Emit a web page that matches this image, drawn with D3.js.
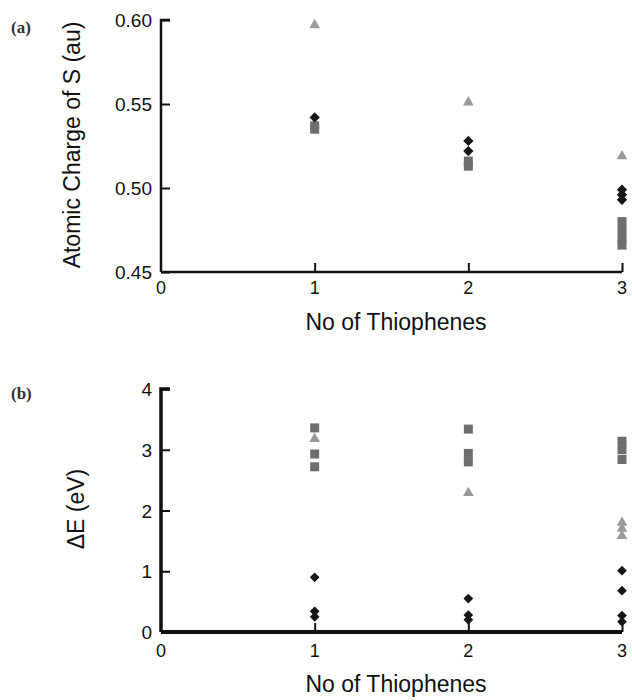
<!DOCTYPE html>
<html>
<head>
<meta charset="utf-8">
<script src="https://cdn.jsdelivr.net/npm/d3@7"></script>
<style>
body { margin: 0; background: #fff; }
svg text { font-family: "Liberation Sans", Arial, sans-serif; fill: #111; }
</style>
</head>
<body>
<div id="chart"></div>
<script>
// panel (a): atomic charge of S
var xTicks = [0, 1, 2, 3]
var chargeTicks = [0.45, 0.50, 0.55, 0.60]
var chargeTri = [[1, 0.597], [2, 0.551], [3, 0.519]]
var chargeDia = [[1, 0.542], [2, 0.528], [2, 0.522], [3, 0.499], [3, 0.496], [3, 0.493]]
var chargeSq = [[1, 0.537], [1, 0.535], [2, 0.516], [2, 0.513], [3, 0.480], [3, 0.475], [3, 0.470], [3, 0.466]]

// panel (b): delta E
var gapTicks = [0, 1, 2, 3, 4]
var gapSq = [[1, 3.36], [1, 2.93], [1, 2.72], [2, 3.34], [2, 2.94], [2, 2.80], [3, 3.14], [3, 3.00], [3, 2.84]]
var gapTri = [[1, 3.18], [2, 2.29], [3, 1.80], [3, 1.70], [3, 1.58]]
var gapDia = [[1, 0.90], [1, 0.34], [1, 0.25], [2, 0.55], [2, 0.28], [2, 0.20], [3, 1.01], [3, 0.68], [3, 0.27], [3, 0.17]]

var width = 632, height = 700

var svg = d3.select("#chart").append("svg")
    .attr("width", width)
    .attr("height", height)

var x = d3.scaleLinear().domain([0, 3]).range([161, 622])

function drawPanel(top, bottom, domain, ticks, fmt, series, opt) {
    var y = d3.scaleLinear().domain(domain).range([bottom, top])
    var g = svg.append("g")

    // y axis
    var ya = g.append("g").attr("transform", "translate(" + x(0) + ",0)")
        .call(d3.axisRight(y).tickValues(ticks).tickSize(9).tickFormat(""))
    ya.select(".domain").attr("stroke", "#111").attr("stroke-width", opt.axisW)
        .attr("d", "M9," + y(domain[1]) + "H0V" + y(domain[0]))
    ya.selectAll(".tick line").attr("stroke", "#111").attr("stroke-width", 2)
    g.selectAll(".ylab").data(ticks).enter().append("text")
        .attr("x", x(0) - 9).attr("y", function(d) { return y(d) + 7 })
        .attr("text-anchor", "end").style("font-size", "19px")
        .text(fmt)

    // x axis
    var xa = g.append("g").attr("transform", "translate(0," + bottom + ")")
        .call(d3.axisTop(x).tickValues(xTicks.slice(1)).tickSize(9).tickFormat(""))
    xa.select(".domain").attr("stroke", "#111").attr("stroke-width", opt.xAxisW)
        .attr("d", "M" + x(0) + ",0H" + x(3))
    xa.selectAll(".tick line").attr("stroke", "#111").attr("stroke-width", 2)
    g.selectAll(".xlab").data(xTicks).enter().append("text")
        .attr("x", function(d) { return x(d) }).attr("y", bottom + opt.tickDy)
        .attr("text-anchor", "middle").style("font-size", "18px")
        .text(function(d) { return d })

    g.append("text").attr("x", 396).attr("y", bottom + opt.titleDy)
        .attr("text-anchor", "middle").style("font-size", "23px")
        .text("No of Thiophenes")

    g.append("text")
        .attr("transform", "translate(" + opt.labelX + "," + opt.labelY + ") rotate(-90)")
        .attr("text-anchor", "middle").style("font-size", "23px")
        .text(opt.label)

    g.append("text").attr("x", 11).attr("y", opt.tagY)
        .style("font-family", "'Liberation Serif', serif").style("font-weight", "bold")
        .style("font-size", "17px").style("fill", "#333")
        .text(opt.tag)

    series.forEach(function(s) {
        g.selectAll(null).data(s.data).enter().append("path")
            .attr("transform", function(d) { return "translate(" + x(d[0]) + "," + y(d[1]) + ")" })
            .attr("d", d3.symbol().type(s.type).size(s.size))
            .attr("fill", s.color)
    })
}

var diamond = d3.symbolDiamond2 || d3.symbolDiamond

drawPanel(20, 272, [0.45, 0.60], chargeTicks, function(d) { return d.toFixed(2) },
    [{data: chargeSq, type: d3.symbolSquare, size: 81, color: "#6e6e6e"},
     {data: chargeTri, type: d3.symbolTriangle, size: 50, color: "#9a9a9a"},
     {data: chargeDia, type: diamond, size: 68, color: "#151515"}],
    {label: "Atomic Charge of S (au)", labelX: 80, labelY: 145, tag: "(a)", tagY: 33,
     axisW: 2.5, xAxisW: 2.5, tickDy: 22, titleDy: 58})

drawPanel(389, 632, [0, 4], gapTicks, function(d) { return d },
    [{data: gapSq, type: d3.symbolSquare, size: 81, color: "#6e6e6e"},
     {data: gapTri, type: d3.symbolTriangle, size: 50, color: "#9a9a9a"},
     {data: gapDia, type: diamond, size: 60, color: "#151515"}],
    {label: "\u0394E (eV)", labelX: 84, labelY: 509, tag: "(b)", tagY: 399,
     axisW: 3.5, xAxisW: 4, tickDy: 25, titleDy: 60})
</script>
</body>
</html>
